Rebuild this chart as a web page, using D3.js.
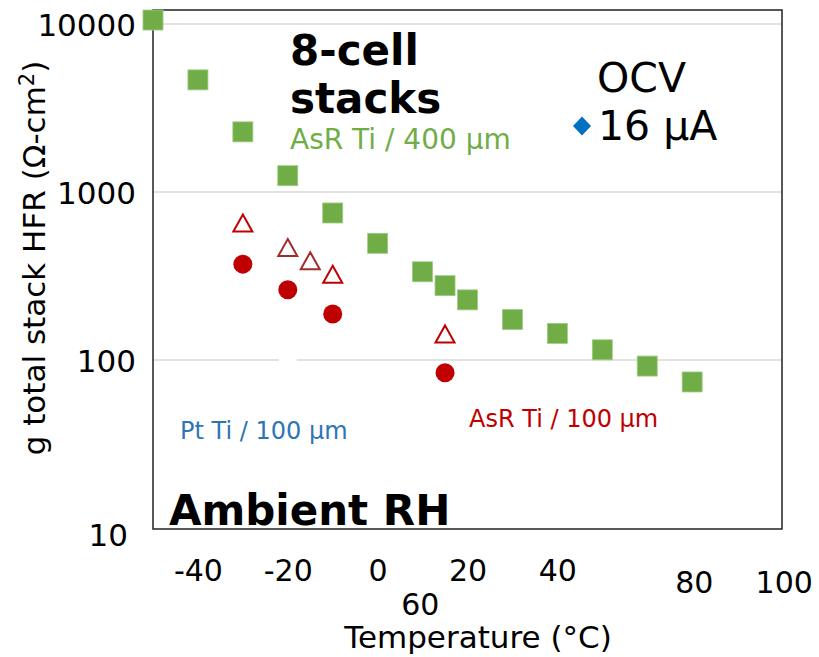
<!DOCTYPE html>
<html>
<head>
<meta charset="utf-8">
<script src="https://cdn.jsdelivr.net/npm/d3@7"></script>
<style>
  body { margin: 0; background: #fff; }
  text { font-family: "DejaVu Sans", sans-serif; }
</style>
</head>
<body>
<svg width="819" height="657"></svg>
<script>
// temperature (C) / HFR (ohm-cm2)
var asr400T = [-50, -40, -30, -20, -10, 0, 10, 15, 20, 30, 40, 50, 60, 70];
var asr400R = [10560, 4650, 2280, 1250, 750, 495, 335, 277, 228, 174, 144, 115, 92, 74];

var asr100T = [-30, -20, -10, 15];
var asr100R = [372, 262, 188, 84];

var asr100openT = [-30, -10, 15];
var asr100openR = [650, 322, 142];
var asr100darkT = [-20, -15];
var asr100darkR = [464, 387];

/*hidden white marker, only shows as a gap in the 100 gridline*/
var ptTiT = [-20];
var ptTiR = [100];

var yTicks = [10, 100, 1000, 10000];
var gridVals = [100, 1000, 10000];
var xTicks = [-40, -20, 0, 20, 40];
/*the stray labels on the original*/
var xExtraLabels = ["60", "80", "100"];
var xExtraAt = [9.5, 70.5, 90.5];
var xExtraRow = [34, 12, 12];

var svg = d3.select("svg");

var x = d3.scaleLinear().domain([-50, 90]).range([153, 782]);
var y = d3.scaleLog().domain([10, 10000]).range([528, 24]);

// gridlines
svg.append("g").selectAll("line")
  .data(gridVals)
  .enter().append("line")
    .attr("x1", 153).attr("x2", 782)
    .attr("y1", function(d) { return y(d); })
    .attr("y2", function(d) { return y(d); })
    .attr("stroke", "#d9d9d9")
    .attr("stroke-width", 1.3);

// frame
svg.append("rect")
    .attr("x", 153).attr("y", 10)
    .attr("width", 782 - 153).attr("height", 529 - 10)
    .attr("fill", "none")
    .attr("stroke", "#222")
    .attr("stroke-width", 1.5);

// y axis labels
var yAxis = svg.append("g")
    .attr("transform", "translate(140,0)")
    .call(d3.axisLeft(y).tickValues(yTicks).tickSize(0).tickFormat(function(d) { return d; }));
yAxis.select(".domain").remove();
yAxis.selectAll("text")
    .attr("x", -4)
    .attr("dy", "0.36em")
    .style("font-size", "31px")
    .style("font-family", "DejaVu Sans")
    .attr("fill", "#000");
yAxis.selectAll("text").filter(function(d) { return d == 10; }).attr("dy", "0.56em").attr("x", -12);

// x axis labels
var xAxis = svg.append("g")
    .attr("transform", "translate(0,560)")
    .call(d3.axisBottom(x).tickValues(xTicks).tickSize(0).tickFormat(function(d) { return d; }));
xAxis.select(".domain").remove();
xAxis.selectAll("text")
    .attr("y", 0)
    .attr("dy", "0.71em")
    .style("font-size", "30px")
    .style("font-family", "DejaVu Sans")
    .attr("fill", "#000");

svg.append("g").selectAll("text")
  .data(xExtraLabels)
  .enter().append("text")
    .attr("x", function(d, i) { return x(xExtraAt[i]); })
    .attr("y", function(d, i) { return 560 + xExtraRow[i]; })
    .attr("dy", "0.71em")
    .attr("text-anchor", "middle")
    .style("font-size", "30px")
    .text(function(d) { return d; });

// axis titles
svg.append("text")
    .attr("x", 478).attr("y", 648)
    .attr("text-anchor", "middle")
    .style("font-size", "31px")
    .text("Temperature (°C)");

svg.append("text")
    .attr("transform", "translate(45,258) rotate(-90)")
    .attr("text-anchor", "middle")
    .style("font-size", "31px")
    .html('g total stack HFR (Ω-cm<tspan dy="-11" font-size="21px">2</tspan><tspan dy="11">)</tspan>');

// markers
function pts(t, r) { return t.map(function(d, i) { return [d, r[i]]; }); }

svg.append("g").selectAll("rect")
  .data(pts(ptTiT, ptTiR))
  .enter().append("rect")
    .attr("x", function(d) { return x(d[0]) - 9; })
    .attr("y", function(d) { return y(d[1]) - 9; })
    .attr("width", 18).attr("height", 18)
    .attr("fill", "#fff");

svg.append("g").selectAll("rect")
  .data(pts(asr400T, asr400R))
  .enter().append("rect")
    .attr("x", function(d) { return x(d[0]) - 10; })
    .attr("y", function(d) { return y(d[1]) - 10; })
    .attr("width", 20).attr("height", 20)
    .attr("fill", "#70ad47")
    .attr("stroke", "#9fcb86")
    .attr("stroke-width", 0.8);

svg.append("g").selectAll("circle")
  .data(pts(asr100T, asr100R))
  .enter().append("circle")
    .attr("cx", function(d) { return x(d[0]); })
    .attr("cy", function(d) { return y(d[1]); })
    .attr("r", 9.5)
    .attr("fill", "#c00000");

var tri = "M0,-9L9.5,8L-9.5,8Z";

svg.append("g").selectAll("path")
  .data(pts(asr100openT, asr100openR))
  .enter().append("path")
    .attr("d", tri)
    .attr("transform", function(d) { return "translate(" + x(d[0]) + "," + y(d[1]) + ")"; })
    .attr("fill", "none")
    .attr("stroke", "#c00000")
    .attr("stroke-width", 2);

svg.append("g").selectAll("path")
  .data(pts(asr100darkT, asr100darkR))
  .enter().append("path")
    .attr("d", tri)
    .attr("transform", function(d) { return "translate(" + x(d[0]) + "," + y(d[1]) + ")"; })
    .attr("fill", "none")
    .attr("stroke", "#a52a2a")
    .attr("stroke-width", 2);

// annotations
svg.append("text")
    .attr("x", 290).attr("y", 65)
    .style("font-size", "42px").style("font-weight", "bold")
    .text("8-cell");
svg.append("text")
    .attr("x", 290).attr("y", 113)
    .style("font-size", "42px").style("font-weight", "bold")
    .text("stacks");
svg.append("text")
    .attr("x", 290).attr("y", 149)
    .style("font-size", "28px").attr("fill", "#70ad47")
    .text("AsR Ti / 400 µm");
svg.append("text")
    .attr("x", 469).attr("y", 427)
    .style("font-size", "24px").attr("fill", "#c00000")
    .text("AsR Ti / 100 µm");
svg.append("text")
    .attr("x", 180).attr("y", 439)
    .style("font-size", "24px").attr("fill", "#2e75b6")
    .text("Pt Ti / 100 µm");
svg.append("text")
    .attr("x", 169).attr("y", 525)
    .style("font-size", "42px").style("font-weight", "bold")
    .text("Ambient RH");

svg.append("text")
    .attr("x", 597).attr("y", 92)
    .style("font-size", "41px")
    .text("OCV");
svg.append("text")
    .attr("x", 598).attr("y", 140)
    .style("font-size", "41px")
    .text("16 µA");
svg.append("path")
    .attr("d", "M0,-9.5L9,0L0,9.5L-9,0Z")
    .attr("transform", "translate(582,126)")
    .attr("fill", "#0070c0");
</script>
</body>
</html>
